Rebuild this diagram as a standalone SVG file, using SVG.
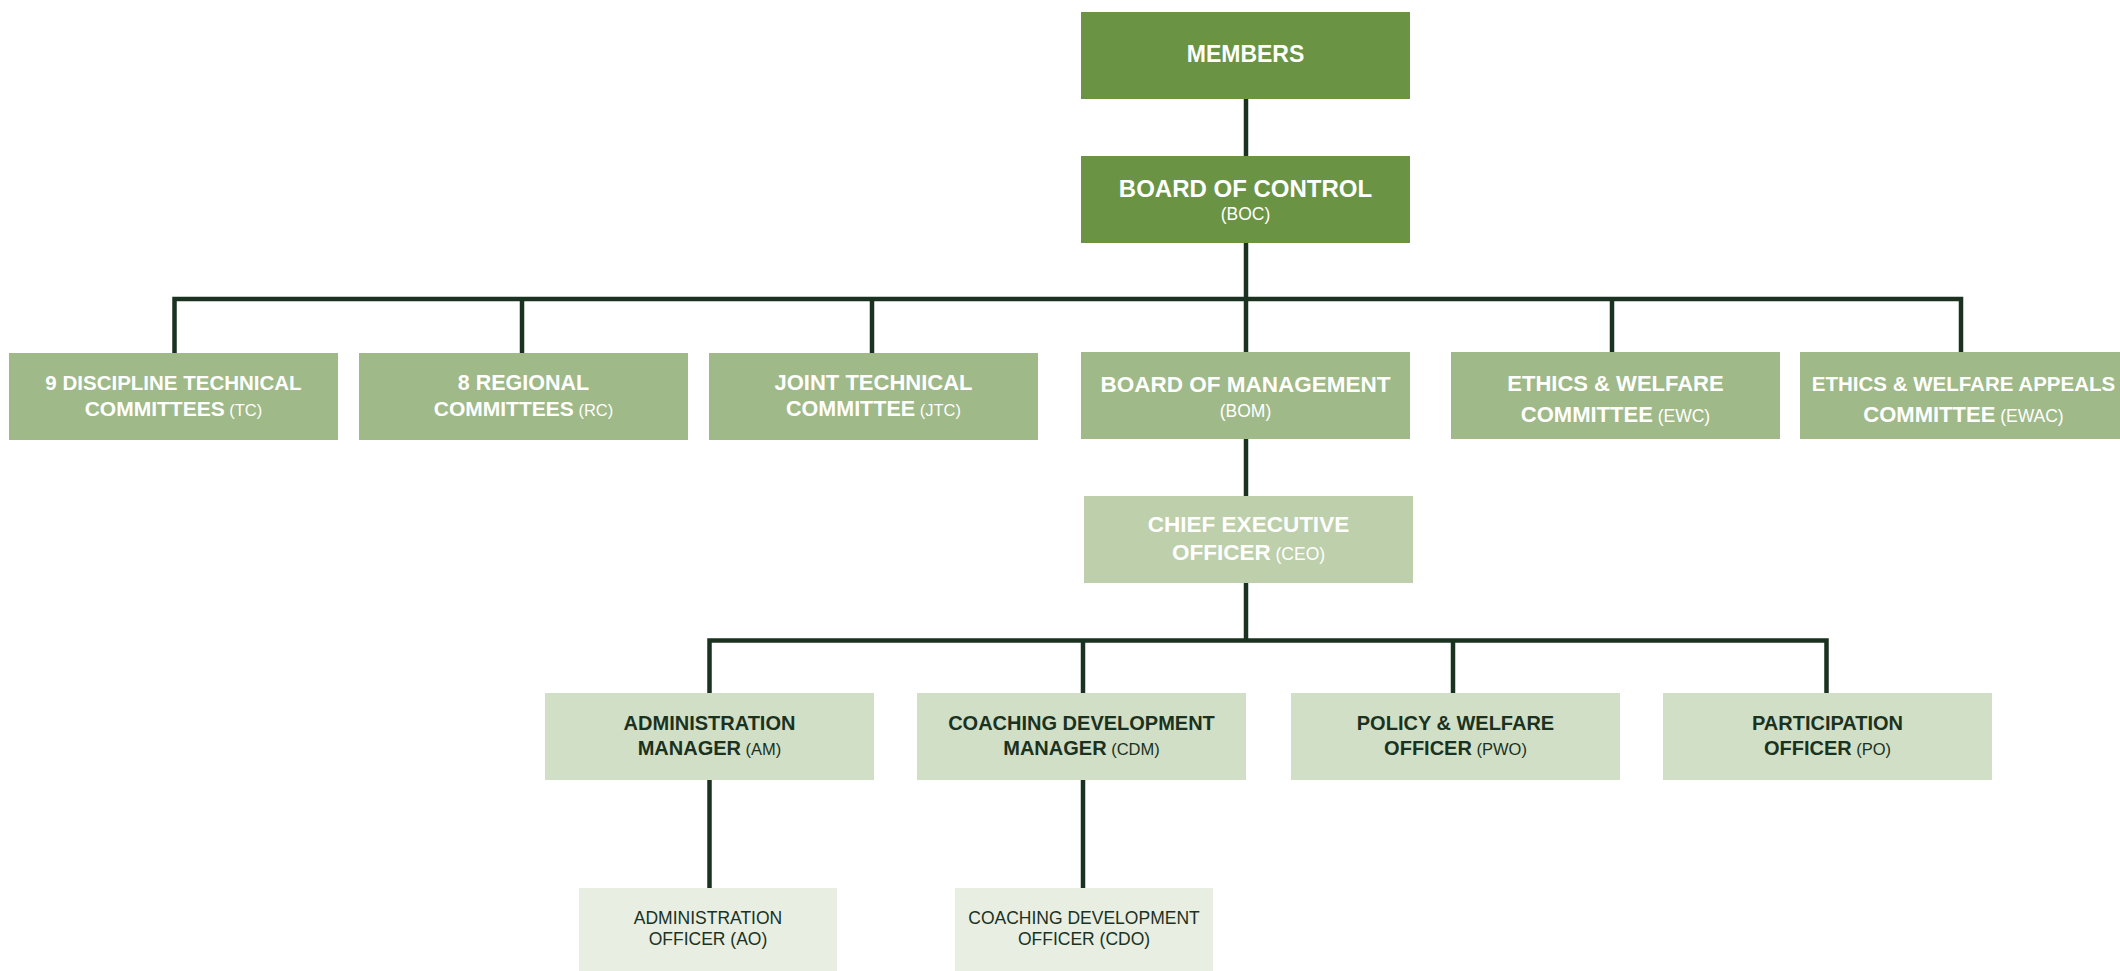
<svg xmlns="http://www.w3.org/2000/svg" width="2120" height="971" viewBox="0 0 2120 971">
  <style>
    text { font-family: "Liberation Sans", Arial, sans-serif; text-anchor: middle; }
    .b { font-weight: bold; }
    .r { font-weight: normal; }
    .w { fill: #ffffff; }
    .d { fill: #1a321f; }
    .l1 { fill: #6a9444; }
    .l2 { fill: #9fb988; }
    .l3 { fill: #bdcfab; }
    .l4 { fill: #d1dfc6; }
    .l5 { fill: #e8eee2; }
    .conn { fill: none; stroke: #1a321f; stroke-width: 4.5; stroke-linejoin: miter; stroke-linecap: butt; }
  </style>

  <rect width="2120" height="971" fill="#ffffff"/>

  <!-- connectors -->
  <g id="connectors" class="conn">
    <path d="M1246,99 V156"/>
    <path d="M1246,243 V352"/>
    <path d="M174.5,353 V299 H1961 V352"/>
    <path d="M522,299 V353"/>
    <path d="M872,299 V353"/>
    <path d="M1612,299 V352"/>
    <path d="M1246,439 V496"/>
    <path d="M1246,583 V640.5"/>
    <path d="M709.5,693 V640.5 H1826.5 V693"/>
    <path d="M1083,640.5 V693"/>
    <path d="M1453,640.5 V693"/>
    <path d="M709.5,780 V888"/>
    <path d="M1083,780 V888"/>
  </g>

  <!-- top level -->
  <g id="members">
    <rect class="l1" x="1081" y="12" width="329" height="87"/>
    <text class="b w" x="1245.5" y="62" font-size="23">MEMBERS</text>
  </g>
  <g id="boc">
    <rect class="l1" x="1081" y="156" width="329" height="87"/>
    <text class="b w" x="1245.5" y="197" font-size="24">BOARD OF CONTROL</text>
    <text class="r w" x="1245.5" y="220" font-size="17.5">(BOC)</text>
  </g>

  <!-- committees and board of management -->
  <g id="tc">
    <rect class="l2" x="9" y="353" width="329" height="87"/>
    <text class="b w" x="173.5" y="390" font-size="20.5">9 DISCIPLINE TECHNICAL</text>
    <text class="w" x="173.5" y="416"><tspan class="b" font-size="21">COMMITTEES</tspan><tspan class="r" font-size="16.5"> (TC)</tspan></text>
  </g>
  <g id="rc">
    <rect class="l2" x="359" y="353" width="329" height="87"/>
    <text class="b w" x="523.5" y="390" font-size="21.5">8 REGIONAL</text>
    <text class="w" x="523.5" y="416"><tspan class="b" font-size="21">COMMITTEES</tspan><tspan class="r" font-size="16.5"> (RC)</tspan></text>
  </g>
  <g id="jtc">
    <rect class="l2" x="709" y="353" width="329" height="87"/>
    <text class="b w" x="873.5" y="390" font-size="22">JOINT TECHNICAL</text>
    <text class="w" x="873.5" y="416"><tspan class="b" font-size="21.5">COMMITTEE</tspan><tspan class="r" font-size="16.5"> (JTC)</tspan></text>
  </g>
  <g id="bom">
    <rect class="l2" x="1081" y="352" width="329" height="87"/>
    <text class="b w" x="1245.5" y="392" font-size="22.5">BOARD OF MANAGEMENT</text>
    <text class="r w" x="1245.5" y="417" font-size="17.5">(BOM)</text>
  </g>
  <g id="ewc">
    <rect class="l2" x="1451" y="352" width="329" height="87"/>
    <text class="b w" x="1615.5" y="391" font-size="22">ETHICS &amp; WELFARE</text>
    <text class="w" x="1615.5" y="422"><tspan class="b" font-size="22">COMMITTEE</tspan><tspan class="r" font-size="17.5"> (EWC)</tspan></text>
  </g>
  <g id="ewac">
    <rect class="l2" x="1800" y="352" width="329" height="87"/>
    <text class="b w" x="1963.5" y="391" font-size="20.5">ETHICS &amp; WELFARE APPEALS</text>
    <text class="w" x="1963.5" y="422"><tspan class="b" font-size="22">COMMITTEE</tspan><tspan class="r" font-size="17.5"> (EWAC)</tspan></text>
  </g>

  <!-- chief executive -->
  <g id="ceo">
    <rect class="l3" x="1084" y="496" width="329" height="87"/>
    <text class="b w" x="1248.5" y="532" font-size="22.5">CHIEF EXECUTIVE</text>
    <text class="w" x="1248.5" y="560"><tspan class="b" font-size="22.5">OFFICER</tspan><tspan class="r" font-size="17.5"> (CEO)</tspan></text>
  </g>

  <!-- staff -->
  <g id="am">
    <rect class="l4" x="545" y="693" width="329" height="87"/>
    <text class="b d" x="709.5" y="730" font-size="20">ADMINISTRATION</text>
    <text class="d" x="709.5" y="755"><tspan class="b" font-size="20">MANAGER</tspan><tspan class="r" font-size="16.5"> (AM)</tspan></text>
  </g>
  <g id="cdm">
    <rect class="l4" x="917" y="693" width="329" height="87"/>
    <text class="b d" x="1081.5" y="730" font-size="20">COACHING DEVELOPMENT</text>
    <text class="d" x="1081.5" y="755"><tspan class="b" font-size="20">MANAGER</tspan><tspan class="r" font-size="16.5"> (CDM)</tspan></text>
  </g>
  <g id="pwo">
    <rect class="l4" x="1291" y="693" width="329" height="87"/>
    <text class="b d" x="1455.5" y="730" font-size="20">POLICY &amp; WELFARE</text>
    <text class="d" x="1455.5" y="755"><tspan class="b" font-size="20">OFFICER</tspan><tspan class="r" font-size="16.5"> (PWO)</tspan></text>
  </g>
  <g id="po">
    <rect class="l4" x="1663" y="693" width="329" height="87"/>
    <text class="b d" x="1827.5" y="730" font-size="20">PARTICIPATION</text>
    <text class="d" x="1827.5" y="755"><tspan class="b" font-size="20">OFFICER</tspan><tspan class="r" font-size="16.5"> (PO)</tspan></text>
  </g>

  <!-- officers -->
  <g id="ao">
    <rect class="l5" x="579" y="888" width="258" height="83"/>
    <text class="r d" x="708" y="924" font-size="17.5">ADMINISTRATION</text>
    <text class="r d" x="708" y="945" font-size="17.5">OFFICER (AO)</text>
  </g>
  <g id="cdo">
    <rect class="l5" x="955" y="888" width="258" height="83"/>
    <text class="r d" x="1084" y="924" font-size="17.5">COACHING DEVELOPMENT</text>
    <text class="r d" x="1084" y="945" font-size="17.5">OFFICER (CDO)</text>
  </g>
</svg>
